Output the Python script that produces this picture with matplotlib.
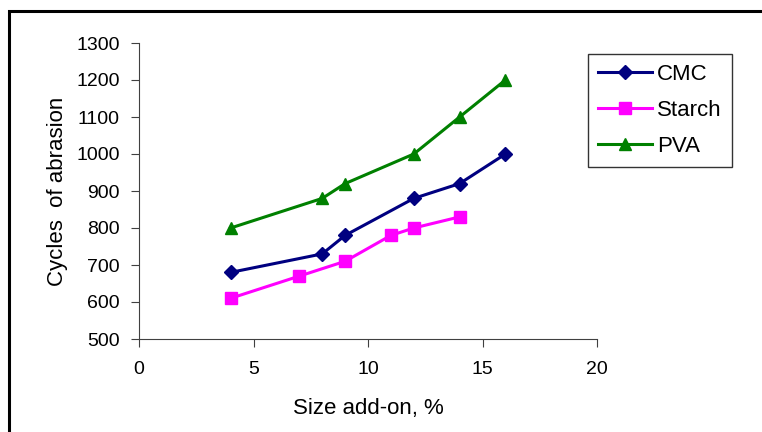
import matplotlib

matplotlib.use("Agg")
import matplotlib.pyplot as plt
from matplotlib.patches import Rectangle

plt.rcParams["font.family"] = ["Liberation Sans", "DejaVu Sans"]

# values
cmc_x = [4, 8, 9, 12, 14, 16]
cmc_y = [680, 730, 780, 880, 920, 1000]
starch_x = [4, 7, 9, 11, 12, 14]
starch_y = [610, 670, 710, 780, 800, 830]
pva_x = [4, 8, 9, 12, 14, 16]
pva_y = [800, 880, 920, 1000, 1100, 1200]

x_ticks = [0, 5, 10, 15, 20]
y_ticks = [500, 600, 700, 800, 900, 1000, 1100, 1200, 1300]

W, H = 762, 432
fig = plt.figure(figsize=(W / 100, H / 100), dpi=100)

# outer chart frame (right/bottom edges fall outside the image)
fig.patches.append(Rectangle((9 / W, -0.1), 1.2, 1 - 11 / H + 0.1, transform=fig.transFigure,
                             fill=False, edgecolor="black", linewidth=2.2))

ax = fig.add_axes([139 / W, 1 - 339 / H, (597 - 139) / W, (339 - 43) / H])
ax.plot(cmc_x, cmc_y, color="#000080", marker="D", markersize=7, linewidth=2.2, label="CMC")
ax.plot(starch_x, starch_y, color="#FF00FF", marker="s", markersize=8, linewidth=2.2, label="Starch")
ax.plot(pva_x, pva_y, color="#008000", marker="^", markersize=9, linewidth=2.2, label="PVA")

ax.set_xlim(0, 20)
ax.set_ylim(500, 1300)
ax.set_xticks(x_ticks)
ax.set_yticks(y_ticks)
ax.spines["top"].set_visible(False)
ax.spines["right"].set_visible(False)
for s in ("left", "bottom"):
    ax.spines[s].set_color("#404040")
ax.tick_params(direction="out", length=6, color="#404040", labelsize=14)
ax.tick_params(axis="x", pad=10)
ax.tick_params(axis="y", pad=8)
ax.set_xlabel("Size add-on, %", fontsize=16, labelpad=14)
ax.set_ylabel("Cycles  of abrasion", fontsize=16, labelpad=6)

leg = ax.legend(loc="upper left", bbox_to_anchor=(588 / W, 1 - 54 / H), bbox_transform=fig.transFigure,
                fontsize=16, frameon=True, fancybox=False, handlelength=2.45, handletextpad=0.2,
                borderpad=0.45, labelspacing=0.68, borderaxespad=0)
leg.get_frame().set_edgecolor("black")
leg.get_frame().set_linewidth(1)

fig.savefig("out.png", dpi=100)
